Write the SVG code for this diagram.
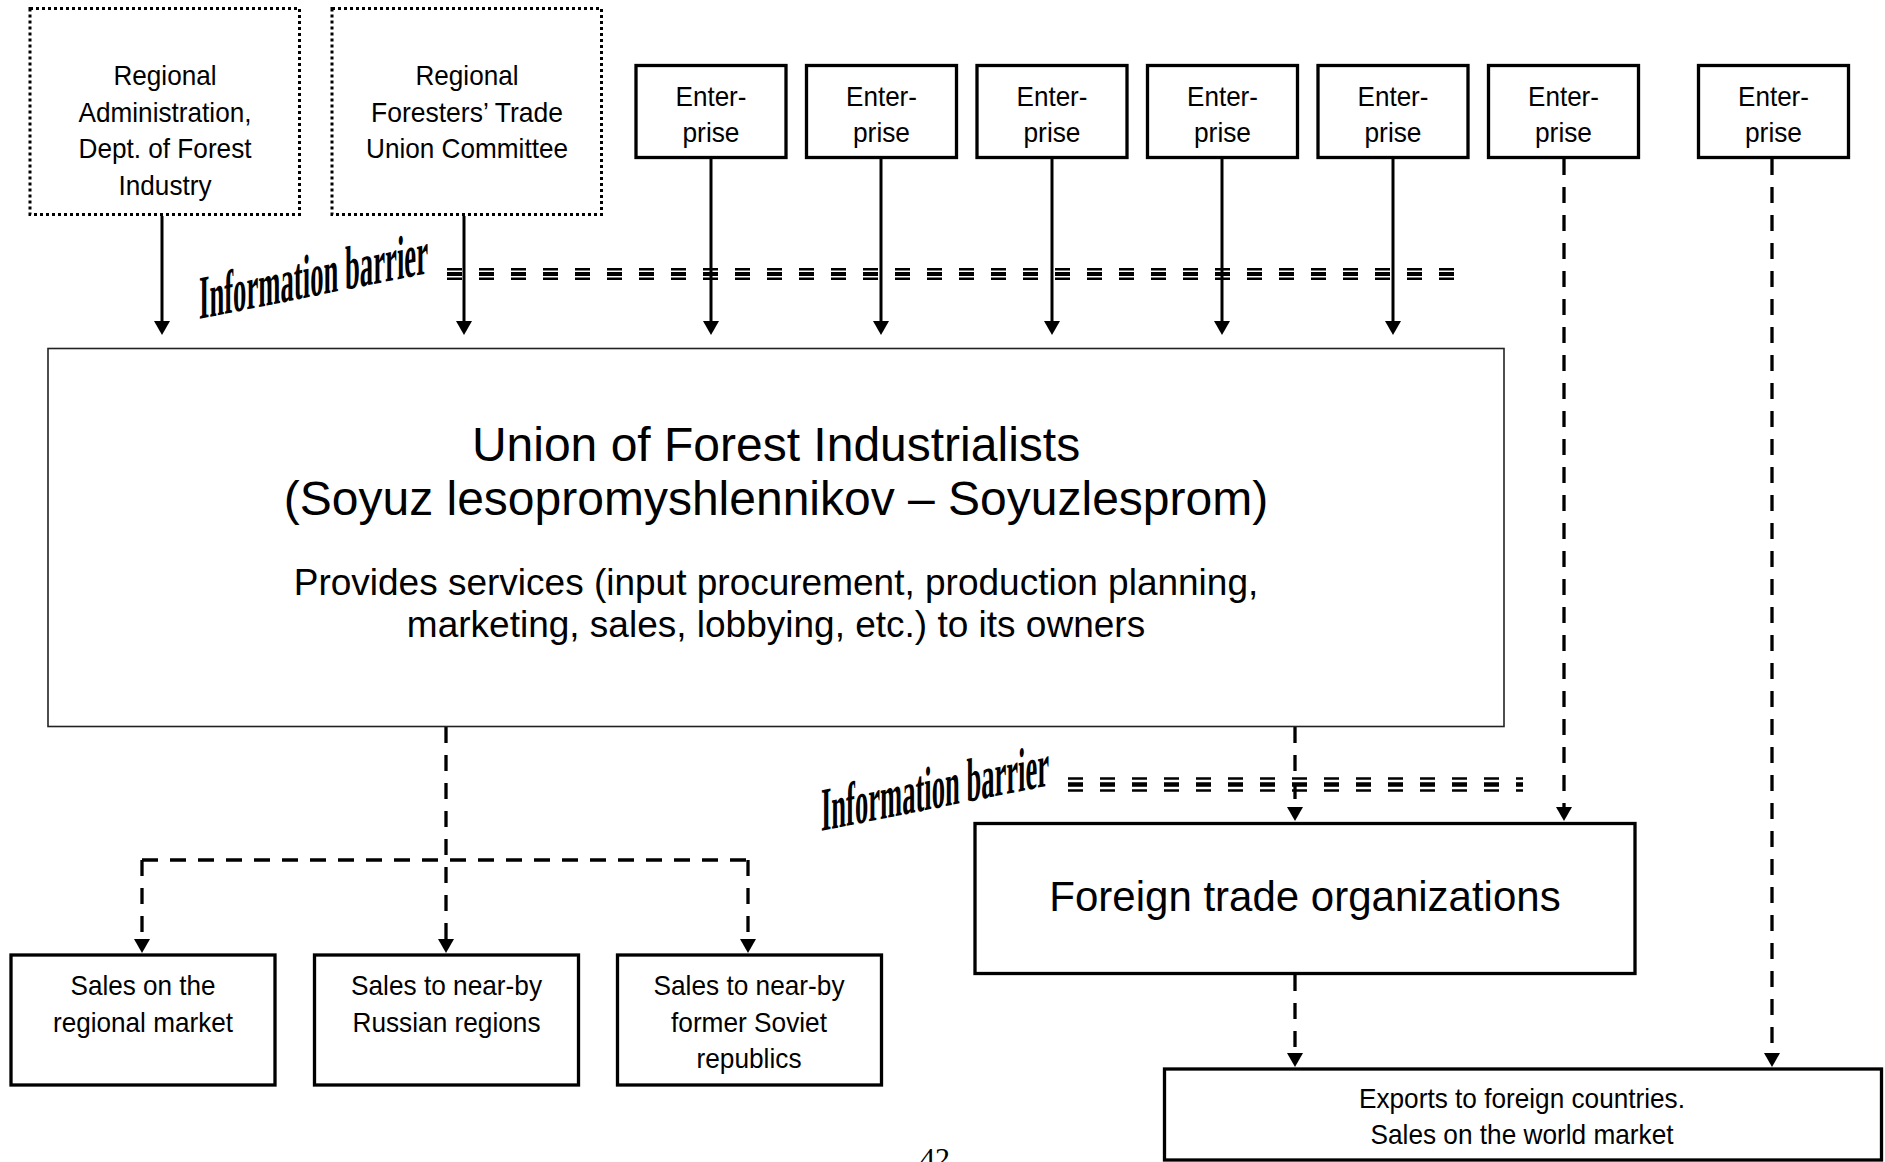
<svg xmlns="http://www.w3.org/2000/svg" width="1885" height="1162" viewBox="0 0 1885 1162">
<style>
.box{fill:#fff;stroke:#000;stroke-width:3.3}
.dot{fill:#fff;stroke:#000;stroke-width:3;stroke-dasharray:3 3}
.main{fill:#fff;stroke:#222;stroke-width:1.6}
.t{font-family:"Liberation Sans",Arial,sans-serif;font-size:28.5px;text-anchor:middle;fill:#000}
.big{font-size:48px}
.mid{font-size:37px}
.fto{font-size:42px}
.ib{font-family:"Liberation Serif","Times New Roman",serif;font-weight:bold;font-size:62px;fill:#000}
.pg{font-family:"Liberation Serif","Times New Roman",serif;font-size:30px;text-anchor:middle;fill:#000}
.solid{stroke:#000;stroke-width:3;fill:none;marker-end:url(#ah)}
.dash{stroke:#000;stroke-width:3.3;stroke-dasharray:16 12;fill:none}
.arr{marker-end:url(#ah)}
.bar{stroke:#000;fill:none;stroke-dasharray:15 17}
</style>
<defs>
<marker id="ah" markerUnits="userSpaceOnUse" markerWidth="14" markerHeight="16" viewBox="0 0 14 16" refX="0" refY="8" orient="auto">
<path d="M0,0 L14,8 L0,16 Z" fill="#000"/>
</marker>
</defs>

<g id="barrier1">
<line class="bar" x1="447" y1="269.25" x2="1454" y2="269.25" stroke-width="2.6"/>
<line class="bar" x1="447" y1="274" x2="1454" y2="274" stroke-width="4"/>
<line class="bar" x1="447" y1="278.75" x2="1454" y2="278.75" stroke-width="2.6"/>
<text class="ib" transform="translate(199,319) skewY(-11.3)" textLength="229" lengthAdjust="spacingAndGlyphs">Information barrier</text>
</g>
<g id="barrier2">
<line class="bar" x1="1068" y1="778.5" x2="1523" y2="778.5" stroke-width="2.6"/>
<line class="bar" x1="1068" y1="784.5" x2="1523" y2="784.5" stroke-width="4.5"/>
<line class="bar" x1="1068" y1="790.5" x2="1523" y2="790.5" stroke-width="2.6"/>
<text class="ib" transform="translate(821,831) skewY(-11.3)" textLength="228" lengthAdjust="spacingAndGlyphs">Information barrier</text>
</g>

<g id="connectors">
<path class="solid" d="M162,216 V321"/>
<path class="solid" d="M464,216 V321"/>
<path class="solid" d="M711,159 V321"/>
<path class="solid" d="M881,159 V321"/>
<path class="solid" d="M1052,159 V321"/>
<path class="solid" d="M1222,159 V321"/>
<path class="solid" d="M1393,159 V321"/>
<path class="dash arr" d="M1564,159 V807"/>
<path class="dash arr" d="M1772,159 V1053"/>
<path class="dash arr" d="M1295,727 V807"/>
<path class="dash arr" d="M1295,975 V1053"/>
<path class="dash arr" d="M446,727 V939"/>
<path class="dash" d="M142,860 H748"/>
<path class="dash arr" d="M142,860 V939"/>
<path class="dash arr" d="M748,860 V939"/>
</g>

<g id="regional-admin">
<rect class="dot" x="30" y="8.5" width="269.5" height="206"/>
<text class="t" x="165" y="85" textLength="103" lengthAdjust="spacingAndGlyphs">Regional</text>
<text class="t" x="165" y="121.5" textLength="173" lengthAdjust="spacingAndGlyphs">Administration,</text>
<text class="t" x="165" y="158" textLength="173" lengthAdjust="spacingAndGlyphs">Dept. of Forest</text>
<text class="t" x="165" y="194.5" textLength="93" lengthAdjust="spacingAndGlyphs">Industry</text>
</g>
<g id="trade-union">
<rect class="dot" x="332" y="8.5" width="269.5" height="206"/>
<text class="t" x="467" y="85" textLength="103" lengthAdjust="spacingAndGlyphs">Regional</text>
<text class="t" x="467" y="121.5" textLength="192" lengthAdjust="spacingAndGlyphs">Foresters’ Trade</text>
<text class="t" x="467" y="158" textLength="202" lengthAdjust="spacingAndGlyphs">Union Committee</text>
</g>

<g id="enterprise1"><rect class="box" x="636" y="65.5" width="150" height="92"/><text class="t" x="711" y="106" textLength="71" lengthAdjust="spacingAndGlyphs">Enter-</text><text class="t" x="711" y="142" textLength="57" lengthAdjust="spacingAndGlyphs">prise</text></g>
<g id="enterprise2"><rect class="box" x="806.5" y="65.5" width="150" height="92"/><text class="t" x="881.5" y="106" textLength="71" lengthAdjust="spacingAndGlyphs">Enter-</text><text class="t" x="881.5" y="142" textLength="57" lengthAdjust="spacingAndGlyphs">prise</text></g>
<g id="enterprise3"><rect class="box" x="977" y="65.5" width="150" height="92"/><text class="t" x="1052" y="106" textLength="71" lengthAdjust="spacingAndGlyphs">Enter-</text><text class="t" x="1052" y="142" textLength="57" lengthAdjust="spacingAndGlyphs">prise</text></g>
<g id="enterprise4"><rect class="box" x="1147.5" y="65.5" width="150" height="92"/><text class="t" x="1222.5" y="106" textLength="71" lengthAdjust="spacingAndGlyphs">Enter-</text><text class="t" x="1222.5" y="142" textLength="57" lengthAdjust="spacingAndGlyphs">prise</text></g>
<g id="enterprise5"><rect class="box" x="1318" y="65.5" width="150" height="92"/><text class="t" x="1393" y="106" textLength="71" lengthAdjust="spacingAndGlyphs">Enter-</text><text class="t" x="1393" y="142" textLength="57" lengthAdjust="spacingAndGlyphs">prise</text></g>
<g id="enterprise6"><rect class="box" x="1488.5" y="65.5" width="150" height="92"/><text class="t" x="1563.5" y="106" textLength="71" lengthAdjust="spacingAndGlyphs">Enter-</text><text class="t" x="1563.5" y="142" textLength="57" lengthAdjust="spacingAndGlyphs">prise</text></g>
<g id="enterprise7"><rect class="box" x="1698.5" y="65.5" width="150" height="92"/><text class="t" x="1773.5" y="106" textLength="71" lengthAdjust="spacingAndGlyphs">Enter-</text><text class="t" x="1773.5" y="142" textLength="57" lengthAdjust="spacingAndGlyphs">prise</text></g>

<g id="soyuzlesprom">
<rect class="main" x="48" y="348.5" width="1456" height="378"/>
<text class="t big" x="776" y="461">Union of Forest Industrialists</text>
<text class="t big" x="776" y="515">(Soyuz lesopromyshlennikov – Soyuzlesprom)</text>
<text class="t mid" x="776" y="595">Provides services (input procurement, production planning,</text>
<text class="t mid" x="776" y="637">marketing, sales, lobbying, etc.) to its owners</text>
</g>

<g id="sales-regional">
<rect class="box" x="11" y="955" width="264" height="130"/>
<text class="t" x="143" y="995" textLength="145" lengthAdjust="spacingAndGlyphs">Sales on the</text>
<text class="t" x="143" y="1031.5" textLength="180" lengthAdjust="spacingAndGlyphs">regional market</text>
</g>
<g id="sales-russian">
<rect class="box" x="314.5" y="955" width="264" height="130"/>
<text class="t" x="446.5" y="995" textLength="191" lengthAdjust="spacingAndGlyphs">Sales to near-by</text>
<text class="t" x="446.5" y="1031.5" textLength="188" lengthAdjust="spacingAndGlyphs">Russian regions</text>
</g>
<g id="sales-soviet">
<rect class="box" x="617.5" y="955" width="264" height="130"/>
<text class="t" x="749" y="995" textLength="191" lengthAdjust="spacingAndGlyphs">Sales to near-by</text>
<text class="t" x="749" y="1031.5" textLength="156" lengthAdjust="spacingAndGlyphs">former Soviet</text>
<text class="t" x="749" y="1068" textLength="105" lengthAdjust="spacingAndGlyphs">republics</text>
</g>

<g id="foreign-trade">
<rect class="box" x="975" y="823.5" width="660" height="150"/>
<text class="t fto" x="1305" y="911">Foreign trade organizations</text>
</g>
<g id="exports">
<rect class="box" x="1164.5" y="1069" width="717" height="91" stroke-width="3"/>
<text class="t" x="1522" y="1108" textLength="326" lengthAdjust="spacingAndGlyphs">Exports to foreign countries.</text>
<text class="t" x="1522" y="1144" textLength="303" lengthAdjust="spacingAndGlyphs">Sales on the world market</text>
</g>

<text class="pg" x="935" y="1168">42</text>
</svg>
